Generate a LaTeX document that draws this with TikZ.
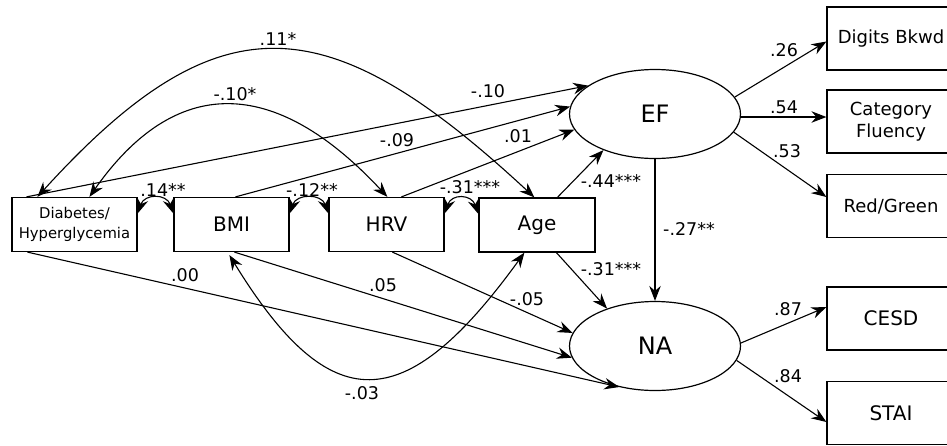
\documentclass[tikz,border=0pt]{standalone}
\usepackage{fontspec}
\setmainfont{DejaVu Sans}
\usetikzlibrary{arrows.meta,shapes.geometric}
\begin{document}
\begin{tikzpicture}[x=1pt,y=-1pt,
  >={Stealth[length=15pt,width=11.5pt,inset=5pt]},
  box/.style={draw, line width=1.2pt, rectangle, inner sep=0pt, align=center, minimum height=54pt},
  rbox/.style={draw, line width=1.2pt, rectangle, inner sep=0pt, align=center, minimum width=128pt, minimum height=63pt},
  lat/.style={draw, ellipse, line width=1.2pt, minimum width=171pt, minimum height=89pt, inner sep=0pt, font=\fontsize{24pt}{28pt}\selectfont},
  lab/.style={anchor=base, inner sep=0pt, font=\fontsize{17.5pt}{20pt}\selectfont},
  arr/.style={->, line width=1.1pt},
  dbl/.style={<->, line width=1.1pt},
  midf/.style={font=\fontsize{18pt}{22.5pt}\selectfont},
  bigf/.style={font=\fontsize{20pt}{24pt}\selectfont}
]
\useasboundingbox (0,0) rectangle (947,445);
\clip (0,0) rectangle (947,445);

% observed predictors
\node[box, minimum width=125pt, font=\fontsize{14.8pt}{19.5pt}\selectfont] (diab) at (74.5,224.5) {Diabetes/\\Hyperglycemia};
\node[box, bigf, minimum width=115pt] (bmi) at (231.5,224.5) {BMI};
\node[box, bigf, minimum width=115pt] (hrv) at (386.5,224.5) {HRV};
\node[box, bigf, minimum width=116pt] (age) at (537,225) {Age};

% latent variables
\node[lat] (ef) at (655,114) {EF};
\node[lat] (na) at (655,346) {NA};

% indicators
\node[rbox, midf] (db) at (891,38.5) {Digits Bkwd};
\node[rbox, midf] (cf) at (891,121.5) {Category\\Fluency};
\node[rbox, midf] (rg) at (891,206) {Red/Green};
\node[rbox, bigf] (cesd) at (891,318.5) {CESD};
\node[rbox, bigf] (stai) at (891,413) {STAI};

% covariances
\draw[dbl] ([xshift=26pt]diab.north west) .. controls (220,-4) and (328,6) .. ([xshift=56pt]age.north west);
\draw[dbl] ([xshift=78pt]diab.north west) .. controls (175,75) and (274,75) .. ([xshift=59pt]hrv.north west);
\draw[dbl] ([yshift=11pt]diab.east) .. controls +(7,-20) and +(-7,-20) .. ([yshift=11pt]bmi.west);
\draw[dbl] ([yshift=11pt]bmi.east) .. controls +(7,-20) and +(-7,-20) .. ([yshift=11pt]hrv.west);
\draw[dbl] ([yshift=11pt]hrv.east) .. controls +(7,-20) and +(-7,-20) .. ([yshift=11pt]age.west);
\draw[dbl] ([xshift=56pt,yshift=-3pt]bmi.south west) .. controls (330,419) and (404,419) .. ([xshift=46pt]age.south west);

% paths to EF
\draw[arr] ([xshift=15pt]diab.north west) -- (ef.157);
\draw[arr] ([xshift=62pt]bmi.north west) -- (ef.175);
\draw[arr] ([xshift=73pt]hrv.north west) -- (ef.191);
\draw[arr] ([xshift=79pt]age.north west) -- (ef.215);

% paths to NA
\draw[arr] (ef.south) -- (na.north);
\draw[arr] ([xshift=78pt]age.south west) -- (na.142);
\draw[arr] ([xshift=64pt]hrv.south west) -- (na.171);
\draw[arr] ([xshift=61pt]bmi.south west) -- (na.188);
\draw[arr] ([xshift=16pt]diab.south west) -- (na.229);

% loadings
\draw[arr] (ef.12) -- ([yshift=-3pt]db.west);
\draw[arr] (ef.358) -- (ef.358 -| cf.west);
\draw[arr] (ef.347) -- ([yshift=9pt]rg.west);
\draw[arr] (na.2) -- ([yshift=11.5pt]cesd.west);
\draw[arr] (na.350) -- ([yshift=-9pt]stai.west);

% labels
\node[lab] (l1) at (278,45) {.11*};
\node[lab] (l2) at (235,100) {-.10*};
\node[lab] (l3) at (488,97) {-.10};
\node[lab] (l4) at (397,146) {-.09};
\node[lab] (l5) at (518,142) {.01};
\node[lab] (l6) at (611,187) {-.44***};
\node[lab] (l7) at (163,196) {.14**};
\node[lab] (l8) at (312,196) {-.12**};
\node[lab] (l9) at (470,193) {-.31***};
\node[lab] (l10) at (689,235) {-.27**};
\node[lab] (l11) at (611,275) {-.31***};
\node[lab] (l12) at (527,305) {-.05};
\node[lab] (l13) at (383,291) {.05};
\node[lab] (l14) at (185,281) {.00};
\node[lab] (l15) at (362,399) {-.03};
\node[lab] (l16) at (784,56) {.26};
\node[lab] (l17) at (784,113) {.54};
\node[lab] (l18) at (787,157) {.53};
\node[lab] (l19) at (788,315) {.87};
\node[lab] (l20) at (788,382) {.84};
\end{tikzpicture}
\end{document}
